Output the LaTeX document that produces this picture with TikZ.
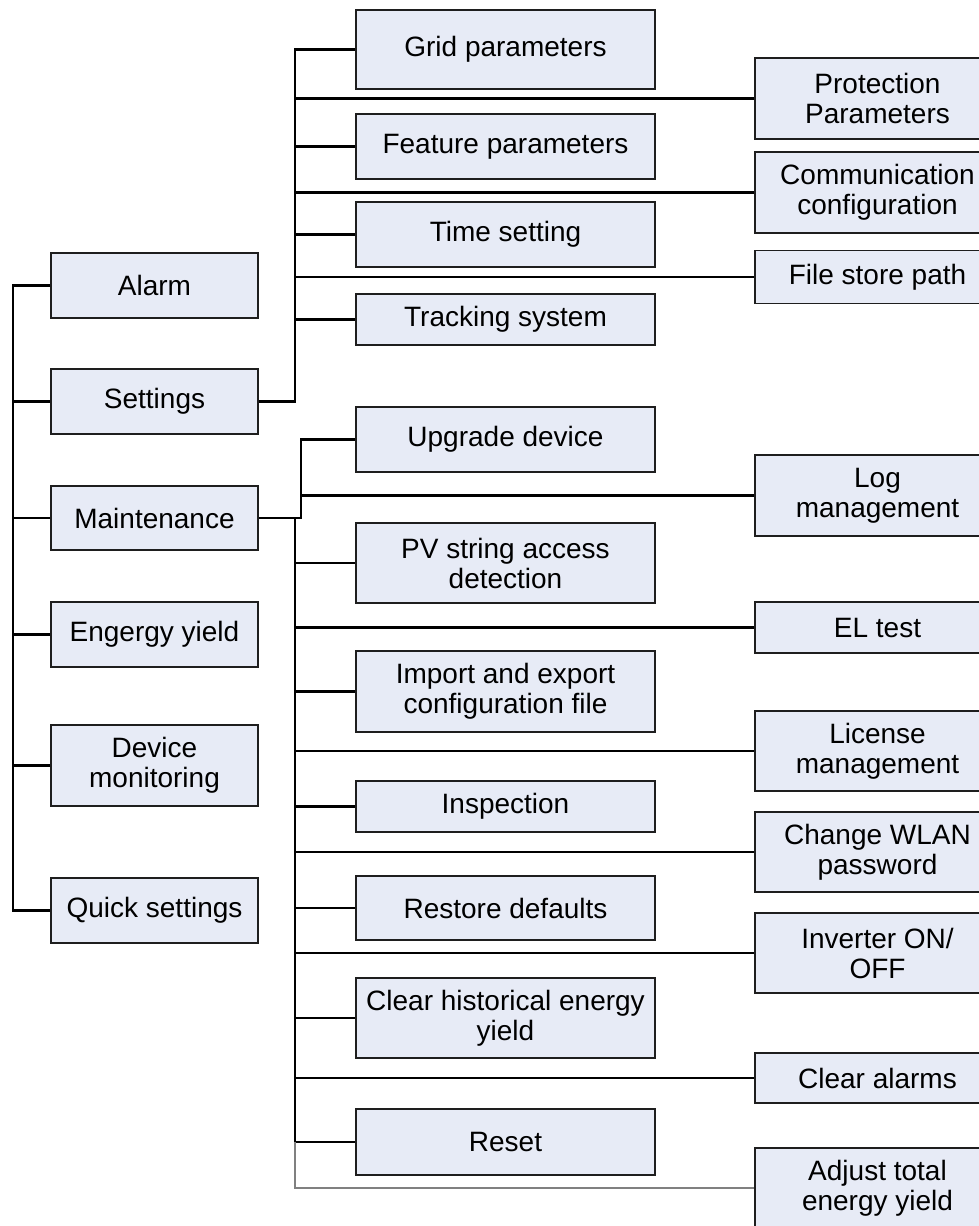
\documentclass[tikz,border=0pt]{standalone}
\usepackage{fontspec}
\setmainfont{Liberation Sans}
\definecolor{boxfill}{RGB}{231,235,246}
\definecolor{boxline}{RGB}{30,30,30}
\begin{document}
\begin{tikzpicture}[x=1pt,y=-1pt,
  box/.style={draw=boxline, line width=1.8pt, fill=boxfill, align=center,
    font=\fontsize{28}{30}\selectfont, inner sep=0pt},
  lbox/.style={box, minimum width=207pt},
  mbox/.style={box, minimum width=299pt},
  rbox/.style={box, minimum width=245pt},
  conn/.style={line width=2.1pt, black},
  gconn/.style={line width=1.5pt, black!50},
]
\clip (0,0) rectangle (979,1226);
\fill[white] (0,0) rectangle (979,1226);

% left column
\node[lbox, minimum height=65pt] (alarm)    at (154.5,285.5) {Alarm};
\node[lbox, minimum height=65pt] (settings) at (154.5,401.5) {Settings};
\node[lbox, minimum height=64pt] (maint)    at (154.5,518)   {Maintenance};
\node[lbox, minimum height=65pt] (energy)   at (154.5,634.5) {Engergy yield};
\node[lbox, minimum height=81pt] (device)   at (154.5,765.5) {Device\\monitoring};
\node[lbox, minimum height=65pt] (quick)    at (154.5,910.5) {Quick settings};

% settings children
\node[mbox, minimum height=79pt] (grid)    at (505.5,49.5)  {Grid parameters};
\node[mbox, minimum height=65pt] (feature) at (505.5,146.5) {Feature parameters};
\node[mbox, minimum height=65pt] (time)    at (505.5,234.5) {Time setting};
\node[mbox, minimum height=51pt] (track)   at (505.5,319.5) {Tracking system};
\node[rbox, minimum height=81pt] (prot)    at (877.5,98.5)  {Protection\\Parameters};
\node[rbox, minimum height=81pt] (comm)    at (877.5,192.5) {Communication\\configuration};
\node[rbox, minimum height=53pt] (file)    at (877.5,277)   {File store path};

% maintenance children
\node[mbox, minimum height=65pt] (upgrade)   at (505.5,439.5) {Upgrade device};
\node[mbox, minimum height=80pt] (pv)        at (505.5,563)   {PV string access\\detection};
\node[mbox, minimum height=81pt] (import)    at (505.5,691.5) {Import and export\\configuration file};
\node[mbox, minimum height=51pt] (insp)      at (505.5,806.5) {Inspection};
\node[mbox, minimum height=64pt] (restore)   at (505.5,908)   {Restore defaults};
\node[mbox, minimum height=80pt] (clearhist) at (505.5,1018)  {Clear historical energy\\yield};
\node[mbox, minimum height=66pt] (reset)     at (505.5,1142)  {Reset};

\node[rbox, minimum height=81pt] (log)      at (877.5,495.5) {Log\\management};
\node[rbox, minimum height=51pt] (el)       at (877.5,627.5) {EL test};
\node[rbox, minimum height=80pt] (license)  at (877.5,751)   {License\\management};
\node[rbox, minimum height=80pt] (wlan)     at (877.5,852)   {Change WLAN\\password};
\node[rbox, minimum height=80pt] (inverter) at (877.5,953)   {Inverter ON/\\OFF};
\node[rbox, minimum height=50pt] (clearal)  at (877.5,1078)  {Clear alarms};
\node[rbox, minimum height=80pt] (adjust)   at (877.5,1188)  {Adjust total\\energy yield};

% trunk coordinates
\coordinate (L)  at (13,0);
\coordinate (S)  at (295,0);
\coordinate (M1) at (301,0);
\coordinate (M2) at (295,0);

% left trunk
\draw[conn] (alarm.west) -- (alarm.west -| L) -- (quick.west -| L) -- (quick.west);
\foreach \n in {settings,maint,energy,device}
  \draw[conn] (\n.west) -- (\n.west -| L);

% settings tree
\draw[conn] (settings.east) -- (settings.east -| S) -- (grid.west -| S) -- (grid.west);
\foreach \n in {feature,time,track,prot,comm,file}
  \draw[conn] (\n.west -| S) -- (\n.west);

% maintenance tree
\draw[conn] (maint.east) -- (maint.east -| M1) -- (upgrade.west -| M1) -- (upgrade.west);
\draw[conn] (log.west -| M1) -- (log.west);
\draw[conn] (maint.east -| M2) -- (reset.west -| M2);
\foreach \n in {pv,import,insp,restore,clearhist,reset,el,license,wlan,inverter,clearal}
  \draw[conn] (\n.west -| M2) -- (\n.west);
\draw[gconn] (reset.west -| M2) |- (adjust.west);
\end{tikzpicture}
\end{document}
